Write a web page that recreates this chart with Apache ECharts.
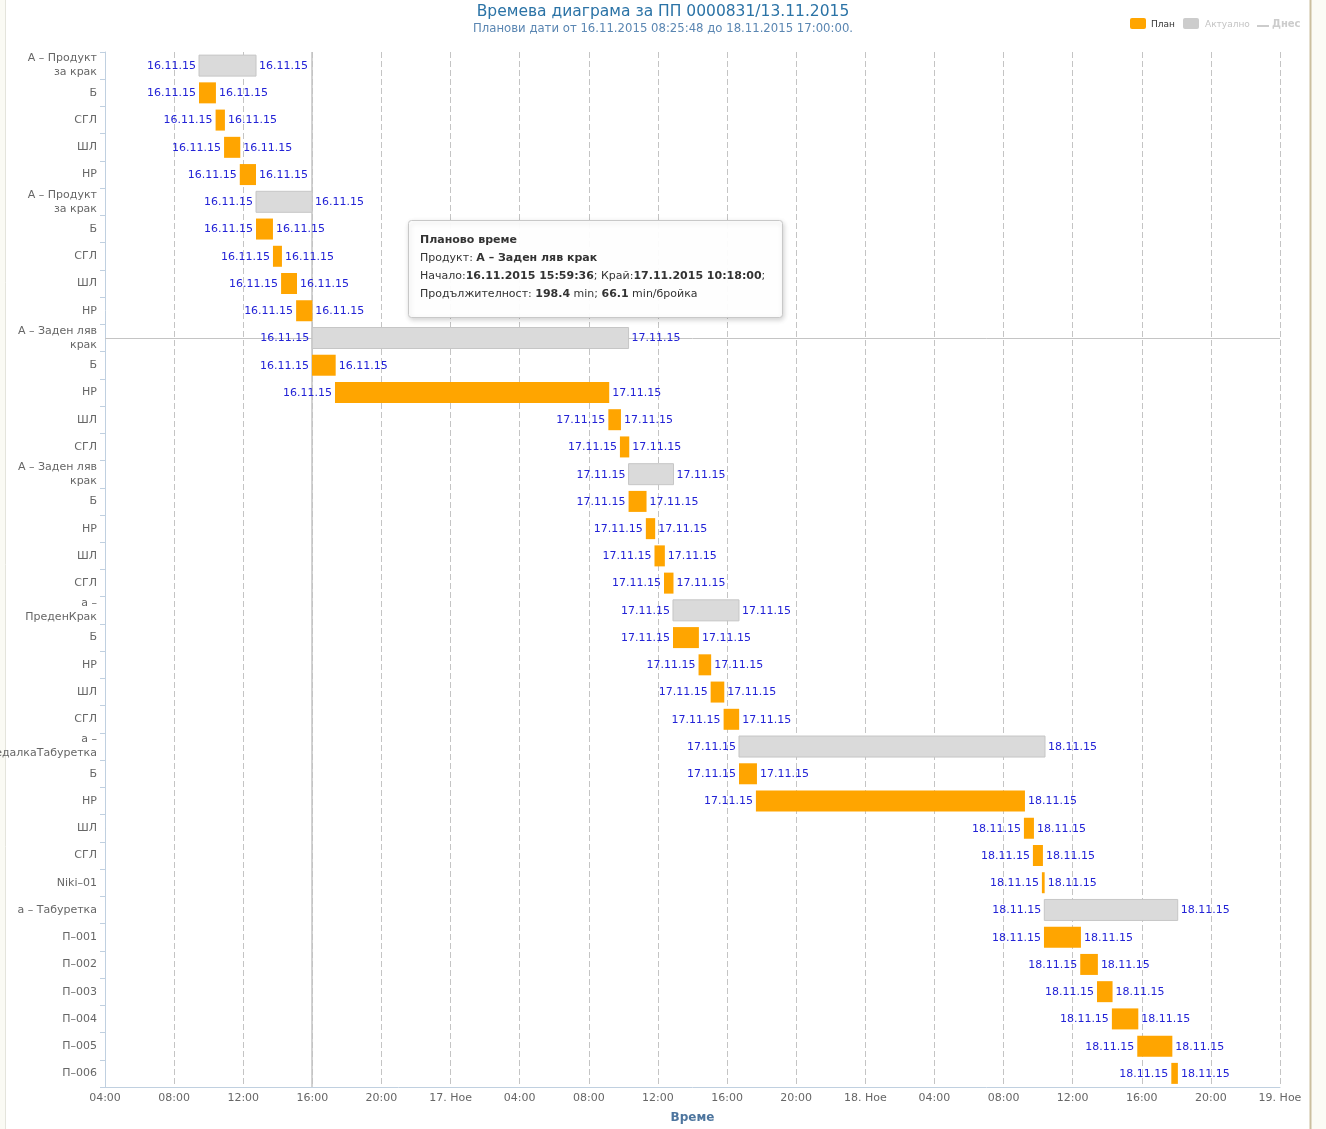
<!DOCTYPE html>
<html>
<head>
<meta charset="utf-8">
<script src="https://cdn.jsdelivr.net/npm/echarts@6/dist/echarts.min.js"></script>
<style>html,body{margin:0;padding:0;background:#fff;}#c{width:1326px;height:1129px;}</style>
</head>
<body>
<div id="c"></div>
<script>
// ---- data (hours counted from 16.11.2015 00:00) ----
const rowLabels = ['А – Продукт\nза крак','Б','СГЛ','ШЛ','НР','А – Продукт\nза крак','Б','СГЛ','ШЛ','НР',
  'А – Заден ляв\nкрак','Б','НР','ШЛ','СГЛ','А – Заден ляв\nкрак','Б','НР','ШЛ','СГЛ',
  'а –\nПреденКрак','Б','НР','ШЛ','СГЛ','а –\nСедалкаТабуретка','Б','НР','ШЛ','СГЛ',
  'Niki–01','а – Табуретка','П–001','П–002','П–003','П–004','П–005','П–006'];
const barKind = ['actual','plan','plan','plan','plan','actual','plan','plan','plan','plan',
  'actual','plan','plan','plan','plan','actual','plan','plan','plan','plan',
  'actual','plan','plan','plan','plan','actual','plan','plan','plan','plan',
  'plan','actual','plan','plan','plan','plan','plan','plan'];
const startHours = [9.44,9.44,10.40,10.89,11.80,12.74,12.74,13.72,14.19,15.06,
  15.99,15.98,17.31,33.13,33.80,34.30,34.30,35.30,35.80,36.35,
  36.87,36.87,38.35,39.05,39.80,40.69,40.69,41.67,57.18,57.70,
  58.22,58.36,58.34,60.44,61.41,62.27,63.74,65.71];
const endHours = [12.74,10.42,10.94,11.83,12.74,15.98,13.72,14.24,15.11,16.00,
  34.30,17.35,33.18,33.86,34.34,36.90,35.34,35.84,36.40,36.90,
  40.69,38.37,39.08,39.84,40.70,58.40,41.73,57.24,57.76,58.28,
  58.38,66.08,60.48,61.46,62.31,63.80,65.77,66.09];
const axisMinHour = 4, axisMaxHour = 72, tickHours = 4;
const monthShort = 'Ное';
const titleText = 'Времева диаграма за ПП 0000831/13.11.2015';
const subtitleText = 'Планови дати от 16.11.2015 08:25:48 до 18.11.2015 17:00:00.';
const xAxisTitle = 'Време';
const legendNames = ['План','Актуално','Днес'];
const tooltipRow = 10, tooltipHour = 15.99;
const tooltipLines = '{b|Планово време}\nПродукт: {b|А – Заден ляв крак}\nНачало:{b|16.11.2015 15:59:36}; Край:{b|17.11.2015 10:18:00};\nПродължителност: {b|198.4} min; {b|66.1} min/бройка';

const FONT = '"DejaVu Sans", Verdana, sans-serif';
const categories = rowLabels.map((_, i) => String(i));
function dayLabel(h) {
  const d = 16 + Math.floor(h / 24);
  return d + '.11.15';
}
const planData = [], actualData = [];
for (let i = 0; i < rowLabels.length; i++) {
  (barKind[i] === 'plan' ? planData : actualData).push([i, startHours[i], endHours[i]]);
}
function makeRender(fill, stroke) {
  return function (params, api) {
    const row = api.value(0), s = api.value(1), e = api.value(2);
    const p0 = api.coord([s, row]);
    const p1 = api.coord([e, row]);
    const h = 21;
    const lab = {fill: '#2323d6', font: '11px ' + FONT, verticalAlign: 'middle'};
    return {
      type: 'group',
      children: [
        {type: 'rect', shape: {x: p0[0], y: p0[1] - h / 2, width: Math.max(p1[0] - p0[0], 1.5), height: h},
          style: {fill: fill, stroke: stroke, lineWidth: stroke ? 1 : 0}},
        {type: 'text', style: Object.assign({x: p0[0] - 3, y: p0[1] + 0.5, text: dayLabel(s), align: 'right'}, lab)},
        {type: 'text', style: Object.assign({x: p1[0] + 3, y: p0[1] + 0.5, text: dayLabel(e), align: 'left'}, lab)}
      ]
    };
  };
}

const chart = echarts.init(document.getElementById('c'));
const option = {
  animation: false,
  backgroundColor: '#ffffff',
  textStyle: {fontFamily: FONT},
  title: {
    text: titleText, subtext: subtitleText, left: 'center', top: 4, padding: 0, itemGap: 3,
    textStyle: {fontSize: 15.5, fontWeight: 'normal', color: '#2b73a6', fontFamily: FONT},
    subtextStyle: {fontSize: 11.7, color: '#5a86b2', fontFamily: FONT}
  },
  grid: {left: 105, right: 46, top: 52, bottom: 42, containLabel: false, outerBoundsMode: 'none'},
  xAxis: {
    type: 'value', min: axisMinHour, max: axisMaxHour, interval: tickHours,
    name: xAxisTitle, nameLocation: 'middle', nameGap: 25,
    nameTextStyle: {fontSize: 12, fontWeight: 'bold', color: '#4d759e', fontFamily: FONT},
    axisLine: {show: true, onZero: false, lineStyle: {color: '#C0D0E0', width: 1}},
    axisTick: {show: false},
    axisLabel: {
      color: '#666', fontSize: 11, fontFamily: FONT, margin: 6,
      formatter: function (v) {
        const hh = v % 24;
        if (hh === 0) return (16 + v / 24) + '. ' + monthShort;
        return (hh < 10 ? '0' : '') + hh + ':00';
      }
    },
    splitLine: {show: true, lineStyle: {color: '#c4c4c4', width: 1, type: [6, 3]}}
  },
  yAxis: {
    type: 'category', data: categories, inverse: true,
    axisLine: {show: true, lineStyle: {color: '#C0D0E0', width: 1}},
    axisTick: {show: true, length: 5, lineStyle: {color: '#C0D0E0'}},
    axisLabel: {
      color: '#666', fontSize: 11, fontFamily: FONT, margin: 8, lineHeight: 14,
      formatter: function (v, i) { return rowLabels[i]; }
    },
    splitLine: {show: false}
  },
  series: [
    {name: legendNames[1], type: 'custom', renderItem: makeRender('#dadada', '#c6c6c6'),
      encode: {x: [1, 2], y: 0}, data: actualData, z: 3},
    {name: legendNames[0], type: 'custom', renderItem: makeRender('#ffa500', null),
      encode: {x: [1, 2], y: 0}, data: planData, z: 3}
  ]
};
chart.setOption(option);

const cp = chart.convertToPixel({gridIndex: 0}, [tooltipHour, tooltipRow]);
const gTop = 52, gBottom = 1129 - 42, gLeft = 105, gRight = 1326 - 46;
chart.setOption({
  graphic: {elements: [
    // frame edges
    {type: 'rect', z: 0, shape: {x: 0, y: 0, width: 5, height: 1129}, style: {fill: '#fafaf4'}},
    {type: 'line', z: 0, shape: {x1: 5.5, y1: 0, x2: 5.5, y2: 1129}, style: {stroke: '#e4e4dc', lineWidth: 1}},
    {type: 'rect', z: 0, shape: {x: 1311, y: 0, width: 15, height: 1129}, style: {fill: '#fbfbf5'}},
    {type: 'line', z: 0, shape: {x1: 1310.5, y1: 0, x2: 1310.5, y2: 1129}, style: {stroke: '#cbbf9f', lineWidth: 2}},
    // crosshairs
    {type: 'line', z: 1, shape: {x1: Math.round(cp[0]), y1: gTop, x2: Math.round(cp[0]), y2: gBottom}, style: {stroke: '#c4c4c4', lineWidth: 1.5}},
    {type: 'line', z: 1, shape: {x1: gLeft, y1: Math.round(cp[1]) + 0.5, x2: gRight, y2: Math.round(cp[1]) + 0.5}, style: {stroke: '#c4c4c4', lineWidth: 1}},
    // legend
    {type: 'rect', z: 10, shape: {x: 1130, y: 18, width: 16, height: 11, r: 2}, style: {fill: '#ffa500'}},
    {type: 'text', z: 10, style: {x: 1151, y: 24.5, text: legendNames[0], font: '9px ' + FONT, fill: '#333', verticalAlign: 'middle'}},
    {type: 'rect', z: 10, shape: {x: 1183, y: 18, width: 16, height: 11, r: 2}, style: {fill: '#cccccc'}},
    {type: 'text', z: 10, style: {x: 1205, y: 24.5, text: legendNames[1], font: '9px ' + FONT, fill: '#c4c4c4', verticalAlign: 'middle'}},
    {type: 'line', z: 10, shape: {x1: 1257, y1: 26, x2: 1269, y2: 26}, style: {stroke: '#cccccc', lineWidth: 2}},
    {type: 'text', z: 10, style: {x: 1272, y: 24.5, text: legendNames[2], font: 'bold 10px ' + FONT, fill: '#cccccc', verticalAlign: 'middle'}},
    // static tooltip
    {type: 'rect', z: 100, shape: {x: 408.5, y: 220.5, width: 374, height: 97, r: 3},
      style: {fill: 'rgba(255,255,255,0.96)', stroke: '#c8c8c8', lineWidth: 1,
        shadowBlur: 5, shadowOffsetX: 1, shadowOffsetY: 2, shadowColor: 'rgba(0,0,0,0.18)'}},
    {type: 'text', z: 101, style: {x: 420, y: 231, text: tooltipLines, font: '11px ' + FONT, fill: '#333',
      lineHeight: 18, verticalAlign: 'top',
      rich: {b: {fontWeight: 'bold', fontSize: 11, lineHeight: 18, fontFamily: FONT, fill: '#333'}}}}
  ]}
});
</script>
</body>
</html>
